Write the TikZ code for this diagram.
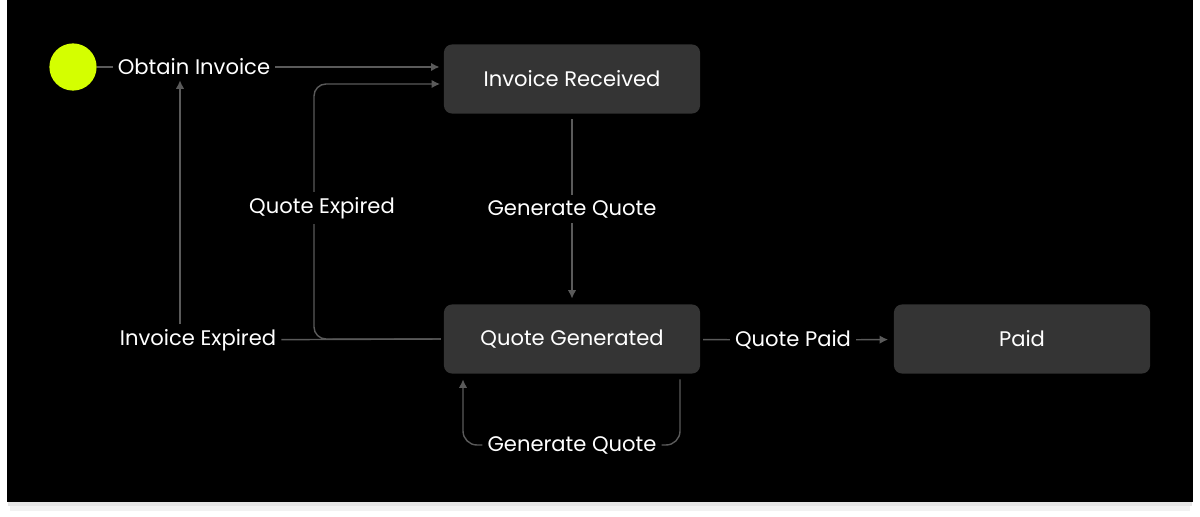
\documentclass[tikz,border=0pt]{standalone}
\usepackage{fontspec}
\setmainfont{Poppins}
\usetikzlibrary{calc,arrows.meta}

\definecolor{lime}{RGB}{212,255,0}
\definecolor{boxgray}{RGB}{52,52,52}
\definecolor{wiregray}{RGB}{90,90,90}

\tikzset{
  state/.style={fill=boxgray,rounded corners=0.2cm,minimum width=6.4cm,minimum height=1.725cm,text=white,font=\fontsize{15}{18}\selectfont},
  lbl/.style={text=white,inner sep=3.5pt,font=\fontsize{15}{18}\selectfont},
  wire/.style={draw=wiregray,line width=1pt},
  tip/.style={-{Latex[length=6pt,width=6pt]}},
}

\begin{document}
\begin{tikzpicture}[x=0.025cm,y=-0.025cm]
  \useasboundingbox (0,0) rectangle (1200,517);
  \fill[white] (0,0) rectangle (1200,517);
  \fill[black!10] (8,500) rectangle (1192,506);
  \fill[black!5] (10,506) rectangle (1190,511);
  \fill[black] (7,0) rectangle (1193,502);

  \coordinate (ieUp) at (180,0);
  \coordinate (qeBot) at (314,339);
  \coordinate (qeTop) at (314,84);
  \coordinate (qeIn) at (440,84);
  \coordinate (loopR) at (680,445);
  \coordinate (loopL) at (463,445);

  \node[circle,fill=lime,minimum size=1.18cm,inner sep=0pt] (start) at (73,67) {};
  \node[lbl] (obtain) at (194,67) {Obtain Invoice};
  \node[state] (recv) at (572,79) {Invoice Received};
  \node[state] (qgen) at (572,339) {Quote Generated};
  \node[state] (paid) at (1022,339) {Paid};
  \node[lbl] (iexp) at (198,340) {Invoice Expired};
  \node[lbl] (qpaid) at (793,340) {Quote Paid};
  \node[lbl] (loopq) at (572,445) {Generate Quote};

  \draw[wire] (start) -- (obtain);
  \draw[wire,tip,shorten >=3pt] (obtain) -- (obtain -| recv.west);

  \draw[wire,tip,shorten <=4pt,shorten >=4pt] (recv) -- node[lbl,fill=black] (genq) {Generate Quote} (qgen);

  \draw[wire,shorten <=2pt] (qgen.west) -- (iexp);
  \draw[wire,tip,rounded corners=0.3cm,shorten <=2pt] (qgen.west) -- (qeBot) -- (qeTop) -- (qeIn);
  \node[lbl,fill=black] (qexp) at (322,208) {Quote Expired};

  \draw[wire,tip] (iexp.north -| ieUp) -- (obtain.south -| ieUp);

  \draw[wire,shorten <=2pt] (qgen) -- (qpaid);
  \draw[wire,tip,shorten >=4pt] (qpaid) -- (paid);

  \draw[wire,rounded corners=0.35cm,shorten <=4pt] (qgen.south -| loopR) -- (loopR) -- (loopq);
  \draw[wire,tip,rounded corners=0.35cm,shorten >=4pt] (loopq) -- (loopL) -- (qgen.south -| loopL);
\end{tikzpicture}
\end{document}
